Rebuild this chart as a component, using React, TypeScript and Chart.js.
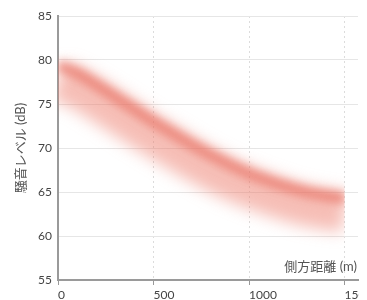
import { useEffect, useRef } from "react";
import { Chart, registerables } from "chart.js";

Chart.register(...registerables);

const distances = [0, 100, 200, 300, 400, 500, 600, 700, 800, 900, 1000, 1100, 1200, 1300, 1400, 1500];
const coreLevel = [79.4, 78.5, 77.2, 75.8, 74.4, 73.0, 71.7, 70.4, 69.2, 68.1, 67.1, 66.3, 65.6, 65.0, 64.6, 64.3];
const bandLevel = [77.6, 76.8, 75.5, 74.1, 72.7, 71.3, 70.0, 68.7, 67.5, 66.4, 65.5, 64.7, 64.0, 63.4, 63.0, 62.7];
const xTicks = [0, 500, 1000, 1500];
const xMax = 1570;
const yMin = 55;
const yMax = 85;
const yStep = 5;
const xTitle = "側方距離 (m)";
const yTitle = "騒音レベル (dB)";

const FONT = "Lato, 'Noto Sans CJK JP', 'Noto Sans', sans-serif";

const blurPlugin = {
  id: "blurBand",
  beforeDatasetDraw(chart: any, args: any) {
    const ds = chart.data.datasets[args.index] as any;
    const ctx = chart.ctx;
    const { left, top, bottom } = chart.chartArea;
    const xEnd = chart.scales.x.getPixelForValue(distances[distances.length - 1]);
    ctx.save();
    ctx.beginPath();
    ctx.rect(left, top - 40, xEnd - left, bottom - top + 80);
    ctx.clip();
    ctx.filter = `blur(${ds.blurPx || 0}px)`;
  },
  afterDatasetDraw(chart: any) {
    chart.ctx.restore();
  },
};

const xTitlePlugin = {
  id: "xTitleInside",
  afterDraw(chart: any) {
    const ctx = chart.ctx;
    const { right, bottom } = chart.chartArea;
    ctx.save();
    ctx.font = `13px ${FONT}`;
    ctx.fillStyle = "#555";
    ctx.textAlign = "right";
    ctx.textBaseline = "middle";
    ctx.fillText(xTitle, right - 1, bottom - 13);
    ctx.restore();
  },
};

export default function App() {
  const ref = useRef<HTMLCanvasElement>(null);
  useEffect(() => {
    if (!ref.current) return;
    document.body.style.overflow = "hidden";
    const chart = new Chart(ref.current, {
      type: "line",
      data: {
        datasets: [
          {
            label: "core",
            data: distances.map((d, i) => ({ x: d, y: coreLevel[i] })),
            borderColor: "rgba(230,106,92,0.62)",
            borderWidth: 12,
            pointRadius: 0,
            tension: 0.4,
            cubicInterpolationMode: "monotone",
            order: 0,
            blurPx: 4,
          } as any,
          {
            label: "band",
            data: distances.map((d, i) => ({ x: d, y: bandLevel[i] })),
            borderColor: "rgba(238,126,110,0.5)",
            borderWidth: 40,
            pointRadius: 0,
            tension: 0.4,
            cubicInterpolationMode: "monotone",
            order: 1,
            blurPx: 8,
          } as any,
        ],
      },
      options: {
        animation: false,
        responsive: true,
        maintainAspectRatio: false,
        layout: { autoPadding: false, padding: { top: 8, right: 9, left: 0, bottom: 0 } } as any,
        plugins: { legend: { display: false }, tooltip: { enabled: false } },
        scales: {
          x: {
            type: "linear",
            min: 0,
            max: xMax,
            afterBuildTicks: (s: any) => {
              s.ticks = xTicks.map((v) => ({ value: v }));
            },
            afterFit: (s: any) => {
              s.height = 20;
              s.paddingLeft = 0;
              s.paddingRight = 0;
            },
            ticks: {
              align: "start",
              padding: 3,
              color: "#444",
              font: { family: FONT, size: 12 },
              maxRotation: 0,
              callback: (v: any) => String(v),
            },
            grid: {
              color: "#dcdcdc",
              tickColor: "#999",
              tickLength: 5,
              drawTicks: true,
            },
            border: { color: "#9a9a9a", width: 2, dash: [2, 3] },
          },
          y: {
            min: yMin,
            max: yMax,
            afterFit: (s: any) => {
              s.width = 50;
              s.paddingTop = 0;
              s.paddingBottom = 0;
            },
            ticks: {
              stepSize: yStep,
              padding: 6,
              color: "#444",
              font: { family: FONT, size: 12 },
            },
            grid: { color: "#e6e6e6", drawTicks: false },
            border: { color: "#9a9a9a", width: 2 },
            title: {
              display: true,
              text: yTitle,
              color: "#555",
              font: { family: FONT, size: 13 },
              padding: { top: 5, bottom: 0 },
            },
          },
        },
      } as any,
      plugins: [blurPlugin, xTitlePlugin],
    });
    return () => chart.destroy();
  }, []);
  return (
    <div style={{ position: "relative", width: 359, height: 292 }}>
      <canvas ref={ref} />
    </div>
  );
}
